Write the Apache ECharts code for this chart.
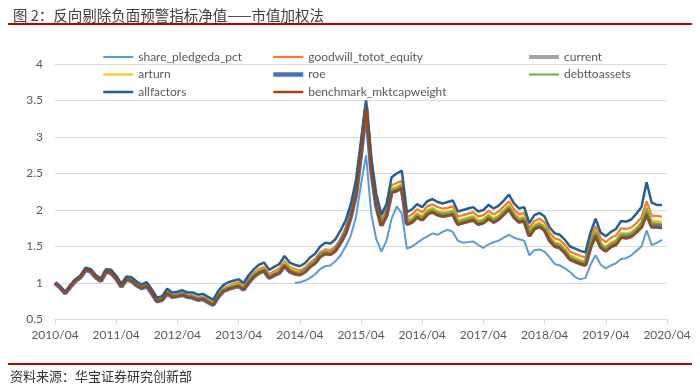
<!DOCTYPE html>
<html>
<head>
<meta charset="utf-8">
<script src="https://cdn.jsdelivr.net/npm/echarts@6/dist/echarts.min.js"></script>
<style>html,body{margin:0;padding:0;background:#fff;}#c{width:700px;height:390px;}</style>
</head>
<body>
<div id="c"></div>
<script>
// Monthly categories 2010/04 .. 2020/04
const categories = [];
for (let i = 0; i <= 120; i++) {
  const y = 2010 + Math.floor((i + 3) / 12);
  const mo = (i + 3) % 12 + 1;
  categories.push(y + '/' + String(mo).padStart(2, '0'));
}
const yTicks = [0.5, 1, 1.5, 2, 2.5, 3, 3.5, 4];
const legendCol1 = ['share_pledgeda_pct', 'arturn', 'allfactors'];
const legendCol2 = ['goodwill_totot_equity', 'roe', 'benchmark_mktcapweight'];
const legendCol3 = ['current', 'debttoassets'];

const sharePledgeda = [
null,null,null,null,null,null,null,null,null,null,
null,null,null,null,null,null,null,null,null,null,
null,null,null,null,null,null,null,null,null,null,
null,null,null,null,null,null,null,null,null,null,
null,null,null,null,null,null,null,
1.00,1.01,1.03,1.07,1.12,1.19,1.23,1.24,1.30,1.38,
1.50,1.65,1.90,2.35,2.75,1.95,1.60,1.43,1.58,1.88,
2.05,1.95,1.47,1.50,1.55,1.60,1.64,1.68,1.66,1.70,
1.73,1.70,1.58,1.55,1.56,1.57,1.52,1.48,1.53,1.56,
1.58,1.62,1.66,1.62,1.60,1.58,1.38,1.45,1.46,1.43,
1.35,1.26,1.24,1.20,1.15,1.08,1.05,1.07,1.25,1.38,
1.25,1.20,1.24,1.27,1.33,1.34,1.38,1.44,1.50,1.72,
1.52,1.55,1.59,null];

const goodwill = [
1.00,0.94,0.87,0.96,1.04,1.09,1.19,1.18,1.10,1.05,
1.18,1.16,1.08,0.98,1.08,1.06,1.00,0.96,0.99,0.89,
0.78,0.80,0.89,0.84,0.85,0.87,0.84,0.83,0.80,0.81,
0.77,0.74,0.85,0.93,0.96,0.99,1.01,0.96,1.06,1.14,
1.19,1.22,1.12,1.16,1.20,1.30,1.22,1.19,1.17,1.21,
1.28,1.33,1.42,1.46,1.45,1.50,1.61,1.76,1.98,2.28,
2.85,3.48,2.64,2.14,1.88,2.02,2.34,2.37,2.40,1.90,
1.94,2.01,1.97,2.05,2.08,2.04,2.02,2.03,2.05,1.91,
1.93,1.95,1.97,1.91,1.93,1.99,1.94,1.98,2.05,2.12,
2.01,1.94,1.96,1.75,1.85,1.88,1.83,1.69,1.61,1.59,
1.52,1.43,1.40,1.37,1.35,1.61,1.78,1.61,1.56,1.62,
1.65,1.75,1.74,1.76,1.82,1.90,2.12,1.92,1.92,1.91,null];

const current = [
1.00,0.94,0.86,0.95,1.03,1.08,1.18,1.16,1.08,1.03,
1.16,1.14,1.07,0.96,1.06,1.04,0.98,0.94,0.97,0.87,
0.76,0.78,0.87,0.82,0.83,0.85,0.82,0.81,0.78,0.79,
0.75,0.71,0.82,0.90,0.93,0.95,0.97,0.92,1.02,1.10,
1.15,1.18,1.08,1.12,1.15,1.25,1.17,1.14,1.12,1.16,
1.23,1.28,1.37,1.41,1.40,1.45,1.56,1.70,1.92,2.22,
2.78,3.41,2.57,2.07,1.80,1.94,2.26,2.28,2.32,1.82,
1.85,1.92,1.88,1.96,1.99,1.95,1.93,1.94,1.96,1.82,
1.84,1.86,1.88,1.82,1.84,1.90,1.85,1.89,1.96,2.03,
1.92,1.85,1.87,1.66,1.76,1.79,1.74,1.60,1.52,1.50,
1.43,1.34,1.31,1.28,1.26,1.51,1.68,1.51,1.46,1.52,
1.55,1.65,1.64,1.66,1.72,1.79,1.99,1.80,1.80,1.79,null];

const arturn = [
1.00,0.94,0.87,0.96,1.04,1.09,1.19,1.17,1.09,1.04,
1.17,1.16,1.08,0.97,1.07,1.05,0.99,0.95,0.98,0.88,
0.77,0.79,0.88,0.83,0.84,0.86,0.83,0.82,0.79,0.80,
0.76,0.73,0.84,0.92,0.95,0.97,0.99,0.94,1.04,1.12,
1.17,1.20,1.10,1.14,1.18,1.28,1.20,1.17,1.15,1.19,
1.26,1.31,1.40,1.44,1.43,1.48,1.59,1.73,1.95,2.25,
2.81,3.44,2.60,2.10,1.84,1.98,2.30,2.32,2.36,1.86,
1.89,1.96,1.92,2.00,2.03,1.99,1.97,1.98,2.00,1.86,
1.88,1.90,1.92,1.86,1.88,1.94,1.89,1.93,2.00,2.07,
1.96,1.89,1.91,1.70,1.80,1.83,1.78,1.64,1.56,1.54,
1.47,1.38,1.35,1.32,1.30,1.55,1.72,1.55,1.50,1.56,
1.59,1.69,1.68,1.70,1.76,1.83,2.04,1.85,1.85,1.84,null];

const roe = [
1.00,0.94,0.86,0.95,1.03,1.08,1.18,1.16,1.08,1.03,
1.16,1.14,1.06,0.95,1.05,1.03,0.97,0.93,0.96,0.86,
0.75,0.77,0.86,0.81,0.82,0.84,0.81,0.80,0.77,0.78,
0.74,0.70,0.81,0.89,0.92,0.94,0.96,0.91,1.01,1.09,
1.14,1.17,1.07,1.11,1.14,1.24,1.16,1.13,1.12,1.16,
1.23,1.28,1.37,1.41,1.40,1.45,1.56,1.69,1.91,2.21,
2.77,3.40,2.56,2.06,1.79,1.93,2.25,2.27,2.31,1.81,
1.84,1.91,1.87,1.95,1.98,1.94,1.92,1.93,1.95,1.81,
1.83,1.85,1.87,1.81,1.83,1.89,1.84,1.88,1.95,2.02,
1.91,1.84,1.86,1.65,1.75,1.78,1.73,1.59,1.51,1.49,
1.42,1.33,1.30,1.27,1.25,1.50,1.67,1.50,1.45,1.51,
1.54,1.64,1.63,1.65,1.71,1.78,1.96,1.78,1.78,1.77,null];

const debttoassets = [
1.00,0.94,0.86,0.95,1.03,1.08,1.18,1.16,1.08,1.03,
1.16,1.15,1.07,0.96,1.06,1.04,0.98,0.94,0.97,0.87,
0.76,0.78,0.87,0.82,0.83,0.85,0.82,0.81,0.78,0.79,
0.75,0.72,0.83,0.91,0.94,0.96,0.98,0.93,1.03,1.11,
1.16,1.19,1.09,1.13,1.16,1.26,1.18,1.15,1.13,1.17,
1.24,1.29,1.38,1.42,1.41,1.46,1.57,1.71,1.93,2.23,
2.79,3.42,2.58,2.08,1.82,1.96,2.28,2.30,2.34,1.84,
1.87,1.94,1.90,1.98,2.01,1.97,1.95,1.96,1.98,1.84,
1.86,1.88,1.90,1.84,1.86,1.92,1.87,1.91,1.98,2.05,
1.94,1.87,1.89,1.68,1.78,1.81,1.76,1.62,1.54,1.52,
1.45,1.36,1.33,1.30,1.28,1.53,1.70,1.53,1.48,1.54,
1.57,1.67,1.66,1.68,1.74,1.81,2.02,1.82,1.82,1.81,null];

const allfactors = [
1.00,0.95,0.87,0.97,1.05,1.10,1.21,1.19,1.11,1.06,
1.19,1.18,1.10,0.99,1.09,1.08,1.02,0.98,1.01,0.91,
0.80,0.82,0.92,0.87,0.88,0.90,0.87,0.87,0.84,0.85,
0.81,0.77,0.89,0.97,1.01,1.03,1.05,1.00,1.11,1.19,
1.25,1.28,1.18,1.22,1.26,1.37,1.28,1.25,1.23,1.27,
1.35,1.40,1.50,1.55,1.54,1.60,1.72,1.86,2.08,2.40,
2.95,3.50,2.72,2.22,1.94,2.08,2.45,2.50,2.54,1.97,
2.01,2.08,2.04,2.12,2.15,2.11,2.09,2.11,2.13,1.98,
2.00,2.02,2.04,1.98,2.00,2.07,2.02,2.06,2.13,2.21,
2.09,2.02,2.04,1.82,1.93,1.96,1.91,1.76,1.68,1.66,
1.59,1.50,1.47,1.44,1.42,1.69,1.88,1.69,1.64,1.70,
1.74,1.85,1.84,1.87,1.95,2.04,2.38,2.10,2.07,2.07,null];

const benchmark = [
1.00,0.94,0.86,0.95,1.03,1.08,1.18,1.16,1.08,1.03,
1.16,1.14,1.06,0.95,1.05,1.03,0.97,0.93,0.96,0.86,
0.75,0.77,0.86,0.81,0.82,0.84,0.81,0.80,0.77,0.78,
0.74,0.70,0.81,0.89,0.92,0.94,0.96,0.91,1.01,1.09,
1.14,1.17,1.07,1.11,1.14,1.24,1.16,1.13,1.11,1.15,
1.22,1.27,1.36,1.40,1.39,1.44,1.55,1.68,1.90,2.20,
2.76,3.39,2.55,2.05,1.78,1.92,2.24,2.26,2.30,1.80,
1.83,1.90,1.86,1.94,1.97,1.93,1.91,1.92,1.94,1.80,
1.82,1.84,1.86,1.80,1.82,1.88,1.83,1.87,1.94,2.01,
1.90,1.83,1.85,1.64,1.74,1.77,1.72,1.58,1.50,1.48,
1.41,1.32,1.29,1.26,1.24,1.48,1.65,1.48,1.43,1.49,
1.52,1.62,1.61,1.63,1.69,1.76,1.94,1.76,1.76,1.75,null];

const FONT = 'Lato, "Noto Sans", sans-serif';
function line(name, data, color, width) {
  return { name, type: 'line', data, symbol: 'none', showSymbol: false,
    lineStyle: { color, width }, itemStyle: { color }, connectNulls: false, animation: false };
}
const legendBase = {
  orient: 'vertical', top: 45, itemWidth: 30, itemHeight: 14, itemGap: 3.5,
  itemStyle: { opacity: 0, color: 'rgba(0,0,0,0)', borderWidth: 0 },
  lineStyle: { width: 'inherit' },
  textStyle: { fontSize: 12, color: '#595959', fontFamily: FONT, lineHeight: 14 }
};
const chart = echarts.init(document.getElementById('c'), null, { renderer: 'canvas' });
chart.setOption({
  animation: false,
  backgroundColor: '#ffffff',
  title: {
    text: '图 2：反向剔除负面预警指标净值——市值加权法',
    left: 8, top: 3,
    textStyle: { fontSize: 14.5, fontWeight: 'normal', color: '#404040', fontFamily: '"Noto Sans CJK SC"' }
  },
  graphic: [
    { type: 'line', shape: { x1: 8, y1: 24, x2: 692, y2: 24 }, style: { stroke: '#c00000', lineWidth: 2 } },
    { type: 'line', shape: { x1: 8, y1: 364, x2: 692, y2: 364 }, style: { stroke: '#c00000', lineWidth: 2 } },
    { type: 'text', left: 10, top: 370, style: { text: '资料来源：华宝证券研究创新部', fontSize: 13, fill: '#333333', fontFamily: '"Noto Sans CJK SC"' } }
  ],
  legend: [
    Object.assign({}, legendBase, { left: 97, data: legendCol1 }),
    Object.assign({}, legendBase, { left: 266, data: legendCol2 }),
    Object.assign({}, legendBase, { left: 522, data: legendCol3 })
  ],
  grid: { left: 55, right: 33, top: 64, bottom: 70.5, containLabel: false },
  xAxis: {
    type: 'category', data: categories, boundaryGap: false,
    axisLine: { show: true, lineStyle: { color: '#d9d9d9', width: 1 } },
    axisTick: { show: true, interval: 11, length: 5, lineStyle: { color: '#d9d9d9' } },
    axisLabel: { interval: 11, fontSize: 12, color: '#595959', fontFamily: FONT, margin: 10 },
    splitLine: { show: false }
  },
  yAxis: {
    type: 'value', min: yTicks[0], max: yTicks[yTicks.length - 1], interval: 0.5,
    axisLine: { show: false }, axisTick: { show: false },
    axisLabel: { fontSize: 12, color: '#595959', fontFamily: FONT, margin: 12 },
    splitLine: { lineStyle: { color: '#d9d9d9', width: 1 } }
  },
  series: [
    line('share_pledgeda_pct', sharePledgeda, '#5b9bd5', 2),
    line('goodwill_totot_equity', goodwill, '#ed7d31', 2.25),
    line('current', current, '#a5a5a5', 4),
    line('arturn', arturn, '#ffc000', 2),
    line('roe', roe, '#4472c4', 4.5),
    line('debttoassets', debttoassets, '#70ad47', 2),
    line('allfactors', allfactors, '#255e91', 2.5),
    line('benchmark_mktcapweight', benchmark, '#9e480e', 2.5)
  ]
});
</script>
</body>
</html>
